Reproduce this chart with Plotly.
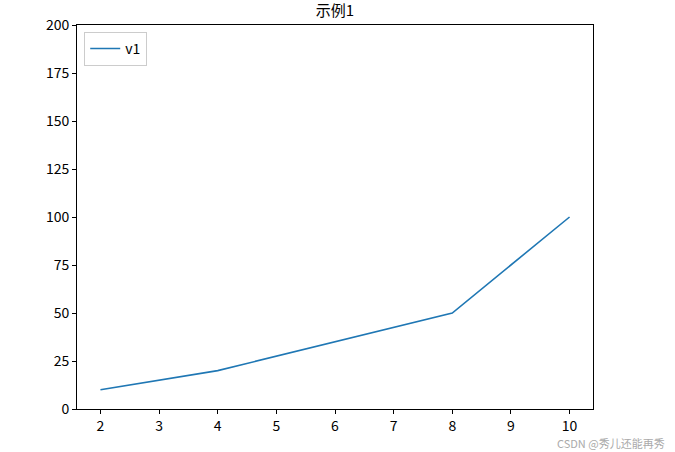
import plotly.graph_objects as go

title = "示例1"
series_name = "v1"
x_vals = [2, 4, 8, 10]
y_vals = [10, 20, 50, 100]
x_ticks = [2, 3, 4, 5, 6, 7, 8, 9, 10]
y_ticks = [0, 25, 50, 75, 100, 125, 150, 175, 200]
watermark = "CSDN @秀儿还能再秀"

font_family = "Noto Sans CJK SC, Noto Sans, DejaVu Sans, sans-serif"

fig = go.Figure()
fig.add_trace(go.Scatter(
    x=x_vals, y=y_vals, mode="lines", name=series_name,
    line=dict(color="#1f77b4", width=1.6),
))

axis_common = dict(
    showgrid=False, zeroline=False, showline=True, linecolor="#000000",
    linewidth=1, mirror=True, ticks="outside", ticklen=4, tickwidth=1,
    tickcolor="#000000", tickfont=dict(size=14, color="#000000", family=font_family),
)

fig.update_layout(
    width=675, height=452,
    margin=dict(l=77, r=82, t=25, b=43),
    paper_bgcolor="white", plot_bgcolor="white",
    font=dict(family=font_family, color="#000000"),
    title=dict(text=title, x=0.5, xref="paper", xanchor="center",
               y=1 - 11 / 452, yref="container", yanchor="middle", pad=dict(t=0, b=0),
               font=dict(size=15, color="#000000", family=font_family)),
    xaxis=dict(range=[1.6, 10.4], tickmode="array", tickvals=x_ticks, **axis_common),
    yaxis=dict(range=[0, 200], tickmode="array", tickvals=y_ticks, **axis_common),
    showlegend=True,
    legend=dict(x=0.014, y=0.982, xanchor="left", yanchor="top",
                bgcolor="rgba(255,255,255,0.8)", bordercolor="#cccccc", borderwidth=1,
                font=dict(size=14, color="#000000", family=font_family),
                itemwidth=30),
    annotations=[dict(text=watermark, xref="paper", yref="paper", x=1.0, y=-0.088,
                      xanchor="right", yanchor="middle", xshift=74, showarrow=False,
                      font=dict(size=11, color="#aaaaaa", family=font_family))],
)

fig.write_html(
    "out.html",
    config={"displayModeBar": False},
    post_script="document.body.style.margin='0';document.body.style.overflow='hidden';",
)
